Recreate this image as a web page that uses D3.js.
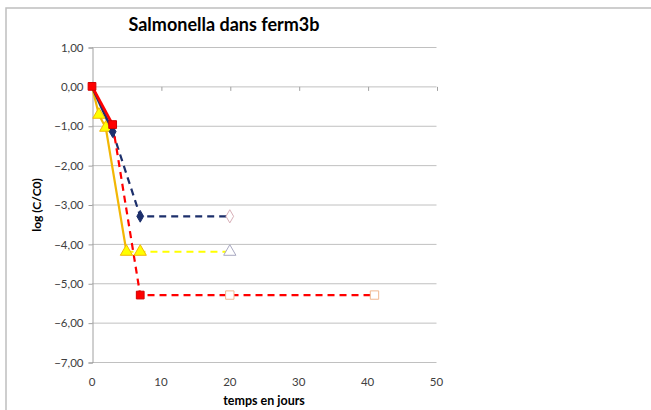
<!DOCTYPE html>
<html><head><meta charset="utf-8">
<script src="https://cdn.jsdelivr.net/npm/d3@7"></script>
<style>body{margin:0;background:#fff;} text{font-family:Lato,"Open Sans",sans-serif;}</style>
</head><body>
<svg id="c" width="651" height="410"></svg>
<script>
const title = "Salmonella dans ferm3b";
const xLabel = "temps en jours";
const yLabel = "log (C/C0)";
const xTicks = [0,10,20,30,40,50];
const yTicks = [1,0,-1,-2,-3,-4,-5,-6,-7];

const navyX = [0,3,7,20];
const navyY = [0,-1.15,-3.3,-3.3];
const yellowX = [0,1,2,5,7,20];
const yellowY = [0,-0.72,-1.05,-4.2,-4.2,-4.2];
const redX = [0,3,7,20,41];
const redY = [0,-0.97,-5.3,-5.3,-5.3];

const svg = d3.select("#c");
svg.append("path").attr("d","M6,412 L6,8 L660,8").attr("fill","none").attr("stroke","#bfbfbf").attr("stroke-width",1.5);

const x = d3.scaleLinear().domain([0,50]).range([92,436.5]);
const y = d3.scaleLinear().domain([1,-7]).range([47,362]);

svg.append("g").selectAll("line").data(yTicks).join("line")
  .attr("x1",x(0)).attr("x2",x(50)).attr("y1",d=>y(d)+0.5).attr("y2",d=>y(d)+0.5)
  .attr("stroke","#c0c0c0").attr("stroke-width",1);

const yAxis = d3.axisLeft(y).tickValues(yTicks).tickSize(4).tickPadding(5)
  .tickFormat(d=>d3.format(".2f")(d).replace(".",","));
const gy = svg.append("g").attr("transform",`translate(${x(0)+0.5},0.5)`).call(yAxis);
gy.select(".domain").attr("stroke","#a0a0a0");
gy.selectAll(".tick line").attr("stroke","#a0a0a0");
gy.selectAll("text").attr("fill","#404040").style("font-size","11.5px").style("font-family","Lato, sans-serif");

const xAxis = d3.axisBottom(x).tickValues(xTicks).tickSize(4).tickFormat("");
const gx = svg.append("g").attr("transform",`translate(0.5,${y(0)+0.5})`).call(xAxis);
gx.select(".domain").remove();
gx.selectAll(".tick line").attr("stroke","#a0a0a0");
svg.append("g").selectAll("text").data(xTicks).join("text")
  .attr("x",d=>x(d)).attr("y",386).attr("text-anchor","middle")
  .attr("fill","#404040").style("font-size","11.5px").text(d=>d);

svg.append("text").attr("x",224).attr("y",31).attr("text-anchor","middle")
  .style("font-size","18px").style("font-weight","bold").attr("fill","#000").text(title);
svg.append("text").attr("x",264).attr("y",405).attr("text-anchor","middle")
  .style("font-size","12.5px").style("font-weight","bold").attr("fill","#000").text(xLabel);
svg.append("text").attr("transform","translate(41,205) rotate(-90)").attr("text-anchor","middle")
  .style("font-size","12px").style("font-weight","bold").attr("fill","#000").text(yLabel);

const line = d3.line().x(d=>x(d[0])).y(d=>y(d[1]));
function seg(xs,ys,i0,i1,color,w,dash){
  const pts = xs.slice(i0,i1+1).map((v,i)=>[v,ys[i0+i]]);
  svg.append("path").attr("d",line(pts)).attr("fill","none").attr("stroke",color)
    .attr("stroke-width",w).attr("stroke-dasharray",dash||null).attr("stroke-linejoin","round");
}
const navy="#1c2f6b", gold="#f2b705", yel="#ffff00", red="#ff0000";

seg(navyX,navyY,1,3,navy,2.2,"7,5");
seg(yellowX,yellowY,3,5,yel,2.2,"7,5");
seg(redX,redY,1,4,red,2.2,"7,5");
seg(yellowX,yellowY,0,3,gold,2.2);
seg(navyX,navyY,0,1,navy,2.8);
seg(redX,redY,0,1,red,2.8);

const sym = (type,size)=>d3.symbol().type(type).size(size)();
function markers(xs,ys,idx,type,size,fill,stroke,sw){
  svg.append("g").selectAll("path").data(idx).join("path")
    .attr("transform",i=>`translate(${x(xs[i])},${y(ys[i])})`)
    .attr("d",sym(type,size)).attr("fill",fill).attr("stroke",stroke).attr("stroke-width",sw);
}
markers(navyX,navyY,[3],d3.symbolDiamond,50,"#fff","#d8b0b8",1);
markers(yellowX,yellowY,[5],d3.symbolTriangle,65,"#fff","#a8a8c0",1);
markers(redX,redY,[3,4],d3.symbolSquare,70,"#fff","#f0b890",1);
markers(yellowX,yellowY,[1,2,3,4],d3.symbolTriangle,65,yel,gold,1);
markers(navyX,navyY,[1,2],d3.symbolDiamond,40,navy,navy,1);
markers(redX,redY,[0,1,2],d3.symbolSquare,60,red,"#d00000",1);
</script>
</body></html>
